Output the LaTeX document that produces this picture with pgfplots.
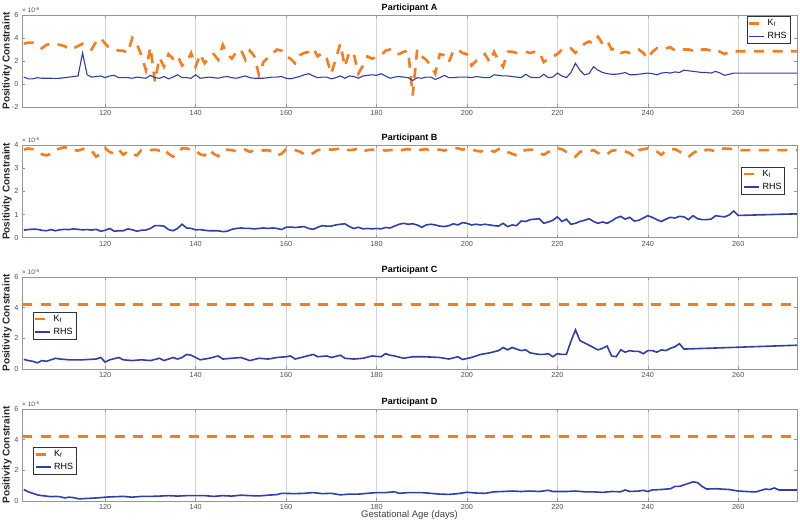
\documentclass[border=0pt]{standalone}
\usepackage{fontspec}
\setmainfont{Liberation Sans}
\usepackage{pgfplots}
\pgfplotsset{compat=1.18}
\definecolor{kf}{RGB}{245,125,30}
\definecolor{rhs}{RGB}{50,62,168}
\definecolor{boxc}{RGB}{150,150,150}
\definecolor{gridc}{RGB}{212,212,212}
\definecolor{tickc}{RGB}{80,80,80}
\tikzset{expo/.style={anchor=south west, inner sep=0pt, yshift=2pt, font=\fontsize{6.5}{7}\selectfont, text=tickc}}
\pgfplotsset{
  panel/.style={
    scale only axis, width=775pt, height=92pt,
    xmin=101.6, xmax=273,
    xtick={120,140,...,260},
    clip mode=individual,
    xmajorgrids, major grid style={gridc, line width=0.5pt},
    axis line style={boxc, line width=0.5pt},
    tick style={boxc, line width=0.5pt},
    major tick length=3pt, tick align=inside,
    ticklabel style={font=\fontsize{7.3}{8}\selectfont, text=tickc},
    /pgf/number format/assume math mode=true,
    scaled y ticks=false,
    every axis title/.style={at={(0.5,1)}, anchor=base, yshift=4.5pt, font=\bfseries\fontsize{9}{10}\selectfont},
    ylabel={Positivity Constraint},
    ylabel style={font=\bfseries\fontsize{10}{11}\selectfont, text=black!85, at={(axis description cs:-0.0194,0.5)}, anchor=center},
    legend cell align=left,
    legend style={draw=black!80, line width=0.5pt, fill=white, font=\fontsize{9}{9.5}\selectfont, inner sep=1.2pt, row sep=1.2pt},
    legend image code/.code={\draw[#1] (0pt,0pt) -- (15pt,0pt);},
  },
  kfline/.style={kf, line width=2.6pt, dash pattern=on 10pt off 8.5pt},
  rhsline/.style={rhs, line width=#1},
}
\begin{document}
\begin{tikzpicture}
\path[use as bounding box] (0,0) rectangle (800pt,531pt);

% ---------------- Participant A
\begin{axis}[panel, at={(22pt,424pt)}, anchor=south west,
  ymin=-2, ymax=6, ytick={-2,0,2,4,6}, title={Participant A},
  legend style={at={(0.991,0.989)}, anchor=north east}]
\addplot[kfline] coordinates {
(102,3.5) (103,3.6) (104,3.6) (105,3.3) (106,3.1) (107,3.4) (108,3.5) (109,3.5) (110,3.4) (111,3.3)
(112,3.0) (113,3.1) (114,3.3) (115,3.5) (116,3.2) (117,3.0) (118,3.7) (119,4.0) (120,3.5) (121,3.1)
(122,3.0) (123,2.9) (124,2.9) (125,2.7) (126,4.0) (127,3.5) (128,2.5) (129,1.2) (130,3.2) (131,0.2)
(132,2.3) (133,1.5) (134,2.6) (135,2.2) (136,2.5) (137,1.6) (138,1.9) (139,2.7) (140,1.5) (141,2.6)
(142,1.8) (143,2.3) (144,2.6) (145,2.1) (146,3.4) (147,2.6) (148,2.2) (149,2.8) (150,3.0) (151,2.1)
(152,2.9) (153,2.4) (154,0.8) (155,1.9) (156,2.3) (157,2.6) (158,3.0) (159,2.9) (160,2.4) (161,2.2)
(162,1.8) (163,2.5) (164,2.7) (165,2.8) (166,3.1) (167,2.4) (168,2.7) (169,2.2) (170,0.9) (171,2.2)
(172,3.5) (173,1.5) (174,2.8) (175,2.6) (176,0.9) (177,1.6) (178,2.4) (179,2.2) (180,2.3) (181,2.5)
(182,2.9) (183,3.0) (184,2.6) (185,2.6) (186,2.8) (187,2.9) (188,-1.0) (189,3.0) (190,2.4) (191,2.1)
(192,1.6) (193,0.9) (194,2.6) (195,2.5) (196,1.9) (197,2.9) (198,3.0) (199,2.7) (200,2.6) (201,1.6)
(202,2.0) (203,2.2) (204,2.6) (205,1.9) (206,2.8) (207,2.0) (208,1.5) (209,2.8) (210,2.8) (211,2.7)
(212,2.8) (213,2.8) (214,2.7) (215,2.8) (216,2.8) (217,1.9) (218,2.2) (219,2.4) (220,2.6) (221,3.0)
(222,3.1) (223,3.1) (224,2.7) (225,3.1) (226,3.5) (227,3.7) (228,3.5) (229,4.1) (230,3.5) (231,3.8)
(232,3.0) (233,3.1) (234,2.7) (235,2.8) (236,2.7) (237,2.9) (238,3.0) (239,2.7) (240,2.2) (241,2.8)
(242,3.1) (243,3.0) (244,3.1) (245,3.2) (246,2.9) (247,3.0) (248,3.0) (249,3.0) (250,2.9) (251,2.8)
(252,3.0) (253,3.0) (254,2.9) (255,3.0) (256,2.8) (257,2.6) (258,2.8) (259,2.85) (273,2.85)};
\addlegendentry{K\textsubscript{f}}
\addplot[rhsline=1.1pt] coordinates {
(102,0.6) (103,0.45) (104,0.45) (105,0.55) (106,0.5) (107,0.5) (108,0.5) (109,0.48) (110,0.5) (111,0.55)
(112,0.6) (113,0.65) (114,0.7) (115,2.7) (116,0.8) (117,0.6) (118,0.65) (119,0.7) (120,0.55) (121,0.7)
(122,0.75) (123,0.55) (124,0.55) (125,0.55) (126,0.5) (127,0.6) (128,0.55) (129,0.5) (130,0.75) (131,0.55)
(132,0.5) (133,0.65) (134,0.45) (135,0.6) (136,0.8) (137,0.55) (138,0.55) (139,0.5) (140,0.8) (141,0.5)
(142,0.55) (143,0.6) (144,0.55) (145,0.5) (146,0.6) (147,0.65) (148,0.55) (149,0.5) (150,0.6) (151,0.7)
(152,0.55) (153,0.5) (154,0.5) (155,0.5) (156,0.55) (157,0.6) (158,0.6) (159,0.65) (160,0.5) (161,0.45)
(162,0.55) (163,0.65) (164,0.8) (165,0.9) (166,0.7) (167,0.55) (168,0.6) (169,0.6) (170,0.45) (171,0.55)
(172,0.7) (173,0.5) (174,0.7) (175,0.65) (176,0.5) (177,0.7) (178,0.75) (179,0.8) (180,0.75) (181,0.9)
(182,0.7) (183,0.5) (184,0.6) (185,0.65) (186,0.6) (187,0.55) (188,0.3) (189,0.55) (190,0.5) (191,0.6)
(192,0.6) (193,0.4) (194,0.55) (195,0.75) (196,0.55) (197,0.55) (198,0.6) (199,0.6) (200,0.6) (201,0.55)
(202,0.65) (203,0.6) (204,0.55) (205,0.55) (206,0.8) (207,0.75) (208,0.7) (209,0.7) (210,0.65) (211,0.6)
(212,0.55) (213,0.85) (214,0.6) (215,0.55) (216,0.55) (217,0.85) (218,0.55) (219,0.6) (220,0.95) (221,0.7)
(222,0.55) (223,1.0) (224,1.8) (225,1.2) (226,0.8) (227,0.9) (228,1.5) (229,1.2) (230,1.0) (231,0.9)
(232,0.85) (233,0.85) (234,0.9) (235,1.0) (236,0.8) (237,0.8) (238,0.85) (239,0.9) (240,0.95) (241,0.9)
(242,0.8) (243,0.95) (244,1.0) (245,0.95) (246,1.05) (247,1.0) (248,1.2) (249,1.15) (250,1.1) (251,1.05)
(252,1.0) (253,1.0) (254,0.95) (255,1.1) (256,0.95) (257,0.75) (258,0.85) (259,0.95) (273,0.95)};
\addlegendentry{RHS}
\node[expo] at (rel axis cs:0,1) {× 10\textsuperscript{-6}};
\end{axis}

% ---------------- Participant B
\begin{axis}[panel, at={(22pt,293.3pt)}, anchor=south west, height=92.7pt,
  ymin=0, ymax=4, ytick={0,1,2,3,4}, title={Participant B},
  legend style={at={(0.9845,0.766)}, anchor=north east}]
\addplot[kfline] coordinates {
(102,3.80) (103,3.85) (104,3.82) (105,3.75) (106,3.60) (107,3.55) (108,3.62) (109,3.80) (110,3.85) (111,3.90)
(112,3.85) (113,3.78) (114,3.76) (115,3.82) (116,3.86) (117,3.75) (118,3.50) (119,3.62) (120,3.86) (121,3.70)
(122,3.62) (123,3.80) (124,3.58) (125,3.72) (126,3.60) (127,3.55) (128,3.78) (129,3.80) (130,3.78) (131,3.80)
(132,3.76) (133,3.85) (134,3.62) (135,3.50) (136,3.62) (137,3.86) (138,3.85) (139,3.80) (140,3.76) (141,3.60)
(142,3.55) (143,3.80) (144,3.62) (145,3.52) (146,3.75) (147,3.80) (148,3.78) (149,3.72) (150,3.76) (151,3.80)
(152,3.70) (153,3.78) (154,3.80) (155,3.76) (156,3.78) (157,3.70) (158,3.55) (159,3.62) (160,3.82) (161,3.80)
(162,3.78) (163,3.72) (164,3.60) (165,3.55) (166,3.65) (167,3.78) (168,3.80) (169,3.82) (170,3.80) (171,3.82)
(172,3.85) (173,3.80) (174,3.78) (175,3.80) (176,3.85) (177,3.72) (178,3.78) (179,3.80) (180,3.78) (181,3.80)
(182,3.76) (183,3.78) (184,3.80) (185,3.75) (186,3.80) (187,3.82) (188,3.78) (189,3.76) (190,3.80) (191,3.82)
(192,3.75) (193,3.78) (194,3.80) (195,3.76) (196,3.82) (197,3.85) (198,3.86) (199,3.80) (200,3.85) (201,3.82)
(202,3.75) (203,3.72) (204,3.78) (205,3.80) (206,3.70) (207,3.82) (208,3.85) (209,3.70) (210,3.62) (211,3.55)
(212,3.72) (213,3.78) (214,3.80) (215,3.78) (216,3.65) (217,3.58) (218,3.70) (219,3.80) (220,3.85) (221,3.82)
(222,3.70) (223,3.60) (224,3.50) (225,3.70) (226,3.75) (227,3.72) (228,3.78) (229,3.65) (230,3.58) (231,3.60)
(232,3.75) (233,3.78) (234,3.76) (235,3.72) (236,3.65) (237,3.50) (238,3.78) (239,3.82) (240,3.85) (241,3.78)
(242,3.72) (243,3.58) (244,3.75) (245,3.80) (246,3.82) (247,3.72) (248,3.60) (249,3.48) (250,3.65) (251,3.75)
(252,3.70) (253,3.80) (254,3.78) (255,3.72) (256,3.82) (257,3.85) (258,3.84) (259,3.80) (260,3.78) (273,3.78)};
\addlegendentry{K\textsubscript{f}}
\addplot[rhsline=1.6pt] coordinates {
(102,0.33) (103,0.35) (104,0.37) (105,0.36) (106,0.32) (107,0.30) (108,0.35) (109,0.30) (110,0.34) (111,0.36)
(112,0.35) (113,0.38) (114,0.36) (115,0.34) (116,0.35) (117,0.33) (118,0.36) (119,0.28) (120,0.32) (121,0.40)
(122,0.28) (123,0.30) (124,0.30) (125,0.38) (126,0.34) (127,0.28) (128,0.32) (129,0.33) (130,0.40) (131,0.52)
(132,0.52) (133,0.50) (134,0.35) (135,0.30) (136,0.40) (137,0.58) (138,0.42) (139,0.40) (140,0.34) (141,0.35)
(142,0.32) (143,0.30) (144,0.30) (145,0.30) (146,0.26) (147,0.28) (148,0.36) (149,0.40) (150,0.42) (151,0.40)
(152,0.40) (153,0.38) (154,0.40) (155,0.42) (156,0.40) (157,0.42) (158,0.40) (159,0.35) (160,0.45) (161,0.46)
(162,0.44) (163,0.46) (164,0.48) (165,0.40) (166,0.36) (167,0.45) (168,0.52) (169,0.50) (170,0.50) (171,0.55)
(172,0.58) (173,0.60) (174,0.48) (175,0.40) (176,0.45) (177,0.38) (178,0.40) (179,0.38) (180,0.40) (181,0.38)
(182,0.44) (183,0.42) (184,0.50) (185,0.58) (186,0.62) (187,0.58) (188,0.60) (189,0.55) (190,0.45) (191,0.55)
(192,0.58) (193,0.55) (194,0.50) (195,0.48) (196,0.52) (197,0.60) (198,0.55) (199,0.65) (200,0.62) (201,0.55)
(202,0.58) (203,0.55) (204,0.58) (205,0.55) (206,0.52) (207,0.50) (208,0.62) (209,0.48) (210,0.55) (211,0.52)
(212,0.72) (213,0.70) (214,0.78) (215,0.80) (216,0.82) (217,0.62) (218,0.68) (219,0.75) (220,0.90) (221,0.70)
(222,0.80) (223,0.58) (224,0.62) (225,0.70) (226,0.75) (227,0.82) (228,0.70) (229,0.62) (230,0.68) (231,0.62)
(232,0.72) (233,0.85) (234,0.92) (235,0.80) (236,0.88) (237,0.72) (238,0.75) (239,0.85) (240,0.95) (241,0.88)
(242,0.78) (243,0.70) (244,0.80) (245,0.88) (246,0.85) (247,0.92) (248,0.90) (249,0.78) (250,0.95) (251,0.82)
(252,0.78) (253,0.78) (254,0.80) (255,0.95) (256,0.92) (257,0.90) (258,0.98) (259,1.15) (260,0.96) (273,1.03)};
\addlegendentry{RHS}
\node[expo] at (rel axis cs:0,1) {× 10\textsuperscript{-6}};
\end{axis}

% ---------------- Participant C
\begin{axis}[panel, at={(22pt,162pt)}, anchor=south west,
  ymin=0, ymax=6, ytick={0,2,4,6}, title={Participant C},
  legend style={at={(0.0138,0.623)}, anchor=north west}]
\addplot[kfline] coordinates {(101.6,4.22) (273,4.22)};
\addlegendentry{K\textsubscript{f}}
\addplot[rhsline=1.6pt] coordinates {
(102,0.63) (103,0.55) (104,0.5) (105,0.4) (106,0.55) (107,0.5) (108,0.6) (109,0.7) (110,0.65) (112,0.6)
(115,0.6) (118,0.65) (119,0.75) (120,0.45) (121,0.6) (123,0.75) (124,0.6) (126,0.55) (128,0.6) (130,0.55)
(132,0.7) (133,0.55) (135,0.75) (136,0.65) (137,0.75) (138,0.95) (139,0.9) (141,0.6) (143,0.7) (145,0.85)
(146,0.65) (148,0.7) (150,0.75) (152,0.55) (154,0.7) (156,0.65) (158,0.75) (160,0.8) (161,0.85) (162,0.65)
(164,0.8) (166,0.95) (167,0.8) (169,0.85) (170,0.75) (172,0.9) (173,0.7) (175,0.65) (177,0.7) (179,0.85)
(181,0.8) (182,1.0) (183,0.9) (184,0.85) (186,0.7) (188,0.8) (190,0.8) (192,0.78) (194,0.75) (196,0.65)
(198,0.8) (199,0.62) (201,0.75) (203,0.95) (205,1.05) (207,1.2) (208,1.4) (209,1.25) (210,1.4) (211,1.3)
(212,1.2) (213,1.25) (214,1.05) (215,1.0) (216,0.95) (217,0.95) (218,1.0) (219,0.8) (220,1.0) (221,0.95)
(222,0.95) (223,1.8) (224,2.55) (225,1.85) (226,1.7) (227,1.55) (228,1.4) (229,1.25) (230,1.35) (231,1.5)
(232,0.85) (233,0.8) (234,1.25) (235,1.1) (236,1.2) (237,1.15) (238,1.15) (239,1.0) (240,1.2) (241,1.2)
(242,1.1) (243,1.25) (244,1.2) (245,1.35) (246,1.45) (247,1.65) (248,1.3) (273,1.55)};
\addlegendentry{RHS}
\node[expo] at (rel axis cs:0,1) {× 10\textsuperscript{-6}};
\end{axis}

% ---------------- Participant D
\begin{axis}[panel, at={(22pt,30pt)}, anchor=south west,
  ymin=0, ymax=6, ytick={0,2,4,6}, title={Participant D},
  xlabel={Gestational Age (days)},
  xlabel style={font=\fontsize{9.5}{10}\selectfont, text=black!75, at={(axis description cs:0.5,-0.155)}, anchor=center},
  legend style={at={(0.0142,0.587)}, anchor=north west}]
\addplot[kfline] coordinates {(101.6,4.22) (273,4.22)};
\addlegendentry{K\textsubscript{f}}
\addplot[rhsline=1.6pt] coordinates {
(102,0.75) (103,0.6) (104,0.5) (105,0.4) (106,0.35) (107,0.32) (108,0.28) (109,0.3) (110,0.28) (111,0.2)
(112,0.25) (113,0.22) (114,0.15) (115,0.15) (116,0.17) (117,0.18) (118,0.2) (119,0.22) (120,0.25) (122,0.28)
(124,0.3) (126,0.25) (128,0.3) (130,0.3) (132,0.32) (134,0.35) (136,0.32) (138,0.35) (140,0.35) (142,0.35)
(144,0.3) (146,0.35) (148,0.32) (150,0.38) (152,0.35) (154,0.33) (156,0.38) (158,0.42) (159,0.5) (162,0.48)
(164,0.5) (166,0.55) (168,0.48) (170,0.5) (172,0.4) (174,0.45) (176,0.45) (178,0.5) (180,0.55) (182,0.55)
(184,0.6) (185,0.5) (187,0.55) (190,0.55) (192,0.5) (194,0.45) (196,0.43) (198,0.48) (200,0.57) (202,0.52)
(204,0.5) (206,0.6) (208,0.62) (210,0.65) (212,0.62) (214,0.65) (216,0.62) (218,0.7) (219,0.62) (222,0.62)
(224,0.65) (226,0.6) (228,0.6) (230,0.56) (232,0.62) (234,0.6) (235,0.72) (236,0.62) (238,0.65) (239,0.7)
(240,0.62) (241,0.72) (243,0.75) (245,0.8) (246,0.95) (247,0.95) (249,1.15) (250,1.25) (251,1.2) (252,0.95)
(253,0.78) (255,0.8) (258,0.75) (260,0.65) (263,0.6) (264,0.6) (266,0.78) (267,0.75) (268,0.85) (269,0.72)
(273,0.72)};
\addlegendentry{RHS}
\node[expo] at (rel axis cs:0,1) {× 10\textsuperscript{-6}};
\end{axis}
\end{tikzpicture}
\end{document}
